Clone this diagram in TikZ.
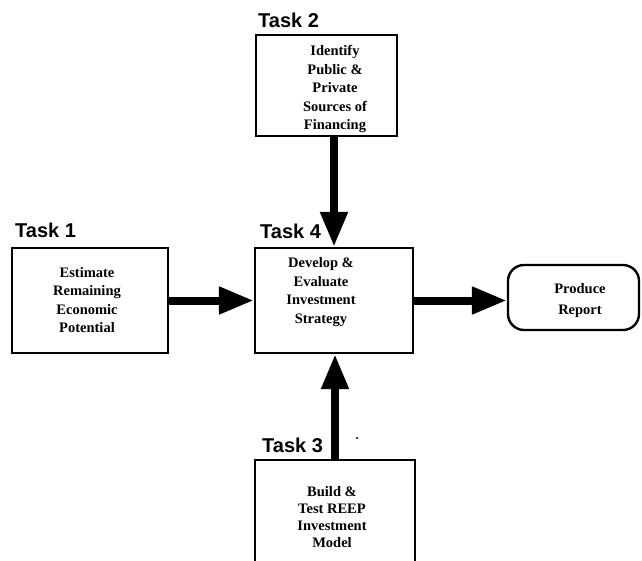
\documentclass[tikz,border=0pt]{standalone}
\usepackage{fontspec}
\setmainfont{Liberation Serif}
\newfontfamily\labelfont{Liberation Sans}
\usetikzlibrary{arrows.meta}
\begin{document}
\begin{tikzpicture}[x=1pt,y=-1pt,
  taskbox/.style={draw,line width=2.4pt,rectangle,inner sep=0pt},
  endbox/.style={draw,line width=2.4pt,rectangle,rounded corners=16pt,inner sep=0pt},
  boxtext/.style={align=center,inner sep=0pt,font=\fontsize{14.5}{18.5}\selectfont\bfseries},
  tasklabel/.style={anchor=west,inner sep=0pt,font=\fontsize{20}{22}\selectfont\labelfont\bfseries},
  flow/.style={line width=8pt,-{Triangle[length=35pt,width=26pt]}}
]
\clip (0,0) rectangle (642,561);
\fill[white] (0,0) rectangle (642,561);

% boxes
\node[taskbox,minimum width=156pt,minimum height=105pt] (t1) at (90,300.5) {};
\node[taskbox,minimum width=141pt,minimum height=101pt] (t2) at (326.5,85.5) {};
\node[taskbox,minimum width=158pt,minimum height=105pt] (t4) at (334,300.5) {};
\node[taskbox,minimum width=160pt,minimum height=140pt] (t3) at (335,530) {};
\node[endbox,minimum width=131pt,minimum height=65pt] (pr) at (573.5,297.5) {};

% box texts
\node[boxtext] (t1txt) at (87,300) {Estimate\\Remaining\\Economic\\Potential};
\node[boxtext] (t2txt) at (335,89) {Identify\\Public \&\\Private\\Sources of\\Financing};
\node[boxtext] (t4txt) at (321,292) {Develop \&\\Evaluate\\Investment\\Strategy};
\node[boxtext,font=\fontsize{14.5}{17.2}\selectfont\bfseries] (t3txt) at (332,517) {Build \&\\Test REEP\\Investment\\Model};
\node[boxtext,font=\fontsize{14.5}{21}\selectfont\bfseries] (prtxt) at (580,301) {Produce\\Report};

% task labels
\node[tasklabel] (l2) at (258,20) {Task 2};
\node[tasklabel] (l1) at (15,230) {Task 1};
\node[tasklabel] (l4) at (260,231) {Task 4};
\node[tasklabel] (l3) at (262,445) {Task 3};

% connectors
\draw[flow] (t1.east) -- (t1.east -| t4.west);
\draw[flow] (t4.east) -- (t4.east -| pr.west);
\draw[flow] (t4.north |- t2.south) -- (t4.north);
\draw[flow] (t3.north) -- (t3.north |- t4.south);

% speck beside the lower connector
\coordinate (speck) at (357,438);
\fill (speck) circle (1.2pt);
\end{tikzpicture}
\end{document}
